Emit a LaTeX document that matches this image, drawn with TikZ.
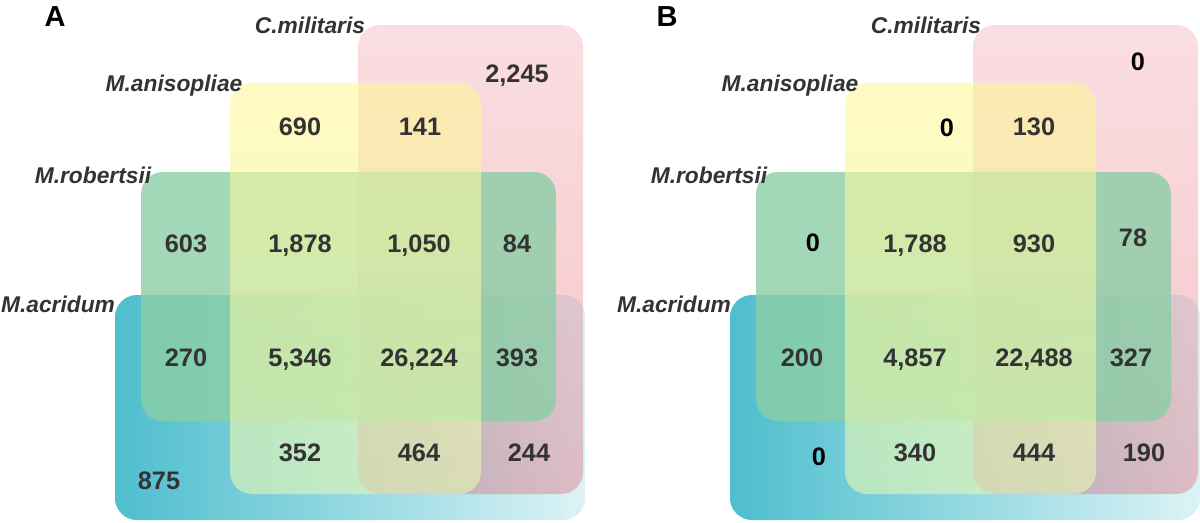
\documentclass[tikz,border=0pt]{standalone}
\usepackage{fontspec}
\setmainfont{Liberation Sans}
\definecolor{numgray}{RGB}{51,51,51}
\definecolor{acrleft}{RGB}{78,190,205}
\definecolor{acrright}{RGB}{220,243,246}
\definecolor{miltop}{RGB}{241,161,170}
\definecolor{milbot}{RGB}{229,86,103}
\definecolor{robgreen}{RGB}{139,206,166}
\definecolor{anitop}{RGB}{255,246,150}
\definecolor{animid}{RGB}{252,240,110}
\definecolor{anibot}{RGB}{228,248,180}

\tikzset{
  setbox/.style={rounded corners=0.55cm},
  num/.style={font=\bfseries\fontsize{18}{20}\selectfont,text=numgray,inner sep=0pt,anchor=base},
  zero/.style={num,text=black},
  setname/.style={font=\bfseries\itshape\fontsize{16.2}{18}\selectfont,text=numgray,inner sep=0pt,anchor=base},
  panel/.style={font=\bfseries\fontsize{20.6}{22}\selectfont,inner sep=0pt,anchor=base}
}

% the four sets, in pixel units of one panel
\newcommand\vennsets{%
  \shade[setbox,left color=acrleft,right color=acrright] (115,295) rectangle (585,520);
  \shade[setbox,fill opacity=0.35,top color=miltop,bottom color=milbot] (358,25) rectangle (583,494);
  \fill[setbox,robgreen,fill opacity=0.8] (141,172) rectangle (556,421);
  \shade[setbox,fill opacity=0.6,top color=anitop,middle color=animid,bottom color=anibot] (230,83) rectangle (481,494);
}

\begin{document}
\begin{tikzpicture}[x=0.025cm,y=-0.025cm]
  \useasboundingbox (0,0) rectangle (1200,522);

  % panel A
  \begin{scope}
    \vennsets
    \node[panel] (A) at (55,26) {A};
    \node[setname] (A-mil) at (310,33) {C.militaris};
    \node[setname] (A-ani) at (174,91) {M.anisopliae};
    \node[setname] (A-rob) at (93,183) {M.robertsii};
    \node[setname] (A-acr) at (58,312) {M.acridum};
    \node[num] (A-m) at (517,82) {2,245};
    \node[num] (A-a) at (300,135) {690};
    \node[num] (A-am) at (420,135) {141};
    \node[num] (A-r) at (186,252) {603};
    \node[num] (A-ra) at (300,252) {1,878};
    \node[num] (A-ram) at (419,252) {1,050};
    \node[num] (A-rm) at (517,252) {84};
    \node[num] (A-rc) at (186,366) {270};
    \node[num] (A-rac) at (300,366) {5,346};
    \node[num] (A-ramc) at (419,366) {26,224};
    \node[num] (A-rmc) at (517,366) {393};
    \node[num] (A-ac) at (300,461) {352};
    \node[num] (A-amc) at (419,461) {464};
    \node[num] (A-mc) at (529,461) {244};
    \node[num] (A-c) at (159,489) {875};
  \end{scope}

  % panel B
  \begin{scope}[xshift=615*0.025cm]
    \vennsets
  \end{scope}
  \node[panel] (B) at (667,26) {B};
  \node[setname] (B-mil) at (926,33) {C.militaris};
  \node[setname] (B-ani) at (790,91) {M.anisopliae};
  \node[setname] (B-rob) at (709,183) {M.robertsii};
  \node[setname] (B-acr) at (674,312) {M.acridum};
  \node[zero] (B-m) at (1138,70) {0};
  \node[zero] (B-a) at (947,136) {0};
  \node[num] (B-am) at (1034,135) {130};
  \node[zero] (B-r) at (813,251) {0};
  \node[num] (B-ra) at (915,252) {1,788};
  \node[num] (B-ram) at (1034,252) {930};
  \node[num] (B-rm) at (1133,246) {78};
  \node[num] (B-rc) at (802,366) {200};
  \node[num] (B-rac) at (915,366) {4,857};
  \node[num] (B-ramc) at (1034,366) {22,488};
  \node[num] (B-rmc) at (1131,366) {327};
  \node[zero] (B-c) at (819,465) {0};
  \node[num] (B-ac) at (915,461) {340};
  \node[num] (B-amc) at (1034,461) {444};
  \node[num] (B-mc) at (1144,461) {190};
\end{tikzpicture}
\end{document}
